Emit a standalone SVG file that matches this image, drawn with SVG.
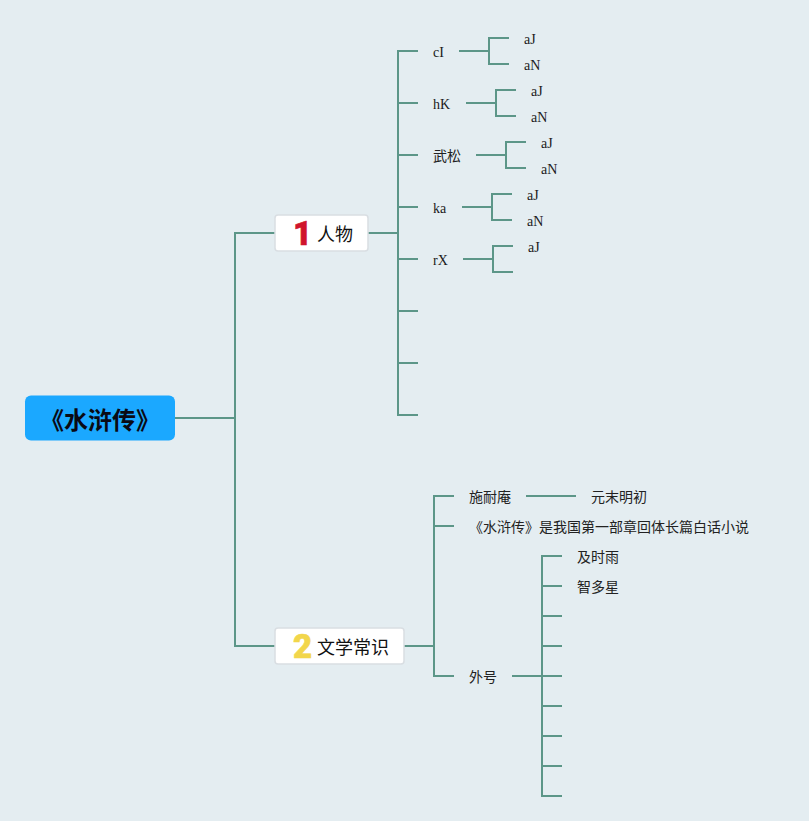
<svg xmlns="http://www.w3.org/2000/svg" width="809" height="821" viewBox="0 0 809 821">
<style>
.c{fill:none;stroke:#5c9688;stroke-width:2}
.t{font-family:"Liberation Serif","Noto Sans CJK SC",serif;font-size:14px;fill:#1a1a1a}
.z{font-family:"Noto Sans CJK SC",sans-serif;font-size:14px;fill:#222}
.m{font-family:"Noto Sans CJK SC",sans-serif;font-size:18px;fill:#111}
.b{fill:#fff;stroke:#d9dee2;stroke-width:1.5}
.n{font-family:Roboto,"Liberation Sans",sans-serif;font-size:33px;font-weight:900;stroke-width:.6;stroke-linejoin:round}
</style>
<rect width="809" height="821" fill="#e4edf1"/>
<g id="connectors" class="c">
<path d="M175 418H235M275 233H235V646H275"/>
<path d="M368 233H398M418 51H398V415H418M398 103H418M398 155H418M398 207H418M398 259H418M398 311H418M398 363H418"/>
<path d="M459 51H489M509 38H489V64H509"/>
<path d="M466 103H496M516 90H496V116H516"/>
<path d="M476 155H506M526 142H506V168H526"/>
<path d="M462 207H492M512 194H492V220H512"/>
<path d="M463 259H493M513 246H493V272H513"/>
<path d="M404 646H434M454 496H434V676H454M434 526H454"/>
<path d="M526 496H576"/>
<path d="M512 676H542M562 556H542V796H562M542 586H562M542 616H562M542 646H562M542 676H562M542 706H562M542 736H562M542 766H562"/>
</g>
<g id="root"><rect x="25" y="395.500" width="150" height="45" rx="6" fill="#1ba8ff"/><text x="100" y="429" text-anchor="middle" font-family="'Noto Sans CJK SC',sans-serif" font-size="24" font-weight="700" fill="#0a0a14">《水浒传》</text></g>
<g id="topic1"><rect class="b" x="275" y="215" width="93" height="36" rx="3"/><text class="n" x="302.500" y="245" text-anchor="middle" fill="#d0142c" stroke="#d0142c">1</text><text class="m" x="317" y="241">人物</text></g>
<g id="topic2"><rect class="b" x="275" y="628" width="129" height="36" rx="3"/><text class="n" x="302.500" y="658" text-anchor="middle" fill="#f2d64b" stroke="#f2d64b">2</text><text class="m" x="317" y="654">文学常识</text></g>
<g id="n-cI"><text class="t" x="433" y="57">cI</text></g>
<g id="n-cI-a"><text class="t" x="524" y="44">aJ</text></g>
<g id="n-cI-b"><text class="t" x="524" y="70">aN</text></g>
<g id="n-hK"><text class="t" x="433" y="109">hK</text></g>
<g id="n-hK-a"><text class="t" x="531" y="96">aJ</text></g>
<g id="n-hK-b"><text class="t" x="531" y="122">aN</text></g>
<g id="n-ws"><text class="z" x="433" y="161">武松</text></g>
<g id="n-ws-a"><text class="t" x="541" y="148">aJ</text></g>
<g id="n-ws-b"><text class="t" x="541" y="174">aN</text></g>
<g id="n-ka"><text class="t" x="433" y="213">ka</text></g>
<g id="n-ka-a"><text class="t" x="527" y="200">aJ</text></g>
<g id="n-ka-b"><text class="t" x="527" y="226">aN</text></g>
<g id="n-rX"><text class="t" x="433" y="265">rX</text></g>
<g id="n-rX-a"><text class="t" x="528" y="252">aJ</text></g>
<g id="n-snh"><text class="z" x="469" y="502">施耐庵</text></g>
<g id="n-ymmc"><text class="z" x="591" y="502">元末明初</text></g>
<g id="n-desc"><text class="z" x="469" y="532">《水浒传》是我国第一部章回体长篇白话小说</text></g>
<g id="n-wh"><text class="z" x="469" y="682">外号</text></g>
<g id="n-jsy"><text class="z" x="577" y="562">及时雨</text></g>
<g id="n-zdx"><text class="z" x="577" y="592">智多星</text></g>
</svg>
